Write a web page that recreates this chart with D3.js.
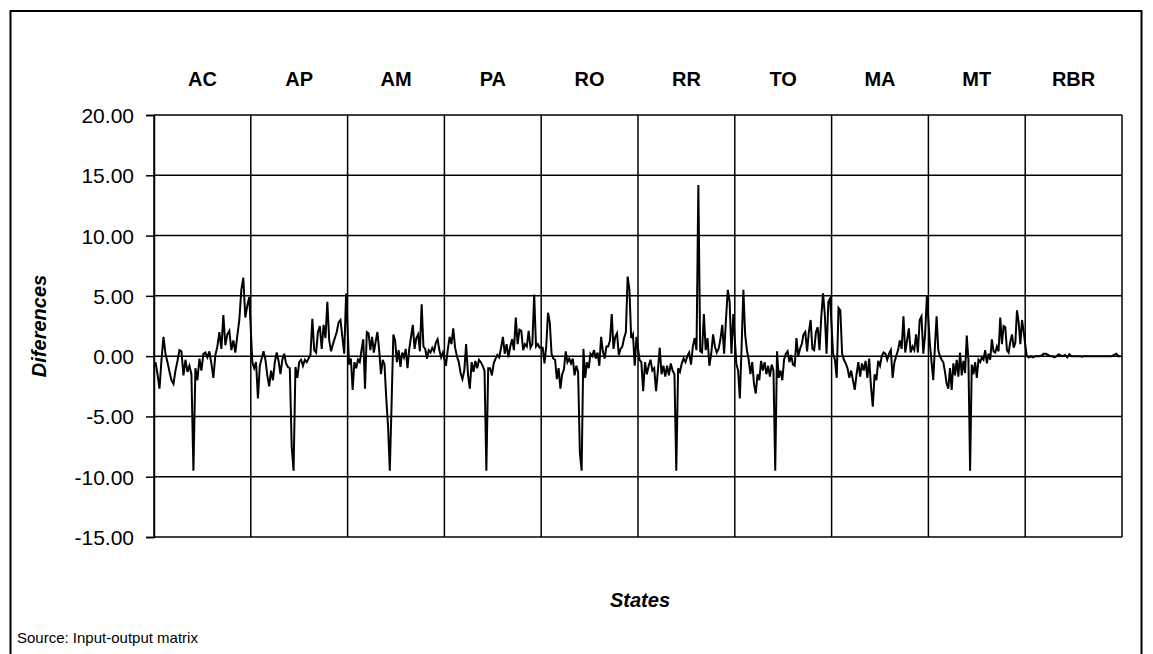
<!DOCTYPE html>
<html><head><meta charset="utf-8">
<script src="https://cdn.jsdelivr.net/npm/d3@7"></script>
<style>body{margin:0;background:#fff} svg{display:block}</style>
</head><body><svg id="c" width="1153" height="654"></svg>
<script>
const states = ["AC","AP","AM","PA","RO","RR","TO","MA","MT","RBR"];
const yTicks = [20,15,10,5,0,-5,-10,-15];

const AC = [-0.5,-1.5,-2.7,-0.3,1.6,0.2,-0.5,-1.3,-2.0,-2.3,-1.2,-0.4,0.5,0.4,-1.6,-0.3,-1.3,-0.8,-1.5,-9.5,-1.0,-2.0,-0.2,-1.2,0.2,0.3,-0.1,0.4,-0.6,-1.8,0.1,0.8,2.0,0.6,3.4,0.9,1.8,2.1,0.5,1.3,0.3,1.7,3.0,5.5,6.5,3.2,4.2,4.9];
const AP = [-0.5,-1.0,-0.5,-3.5,-0.8,-0.2,0.4,-0.3,-1.6,-2.5,-1.2,-2.0,-0.5,0.3,-0.4,-1.5,-0.3,0.2,-0.6,-0.9,-1.0,-7.5,-9.5,-0.9,-1.8,-0.5,-0.3,-0.8,-0.3,-0.5,-0.2,0.1,3.1,0.5,0.3,2.0,2.5,0.6,2.6,1.5,4.5,1.3,0.4,1.0,1.5,2.0,2.8,3.0,1.6,0.2,5.2];
const AM = [-0.7,-0.2,-2.8,-0.5,-1.0,-0.3,-0.5,0.5,1.4,-2.7,2.0,1.9,0.5,1.6,0.3,1.2,2.0,0.5,-1.5,-0.3,-0.7,-3.5,-5.8,-9.5,-4.0,1.8,1.3,-0.5,0.5,-0.9,0.3,-0.1,0.6,-1.0,0.6,1.6,2.6,0.6,1.5,1.8,0.4,4.3,0.8,0.6,-0.2,0.5,0.3,0.7,0.4,1.1,1.4,0.5,-0.1,0.3];
const PA = [-0.8,0.5,1.6,1.0,2.3,0.7,0.0,-0.5,-1.4,-1.9,-1.2,1.0,-1.5,-2.7,-0.5,-1.3,-0.4,-1.0,-0.3,-0.5,-0.8,-1.2,-9.5,-1.0,-1.0,-1.6,-0.6,-0.2,0.1,-0.1,0.7,1.6,0.2,1.0,-0.1,0.8,1.4,0.5,3.2,1.0,2.2,2.1,0.5,1.0,0.8,2.1,0.7,1.0,5.1,0.8,1.0,0.7];
const RO = [0.7,-0.6,0.8,3.6,2.8,0.2,-0.2,-0.3,-1.9,-1.0,-2.7,-1.5,-1.1,0.4,-0.5,-0.2,-0.6,-0.2,-1.6,-0.8,-1.3,-8.0,-9.5,0.6,-1.8,-0.5,-1.0,0.2,0.0,0.5,-0.2,0.3,-0.8,1.6,0.4,-0.2,0.8,0.8,1.3,3.5,0.6,1.6,1.9,0.1,0.6,0.8,1.5,2.0,6.6,5.5,1.5,1.8,-0.8,1.6];
const RR = [-0.3,-0.5,-2.9,-0.5,-1.5,-0.8,-0.3,-1.2,-1.0,-2.9,-1.2,0.7,-1.5,-0.8,-1.7,-0.8,-1.6,-0.6,-1.2,-1.5,-9.5,-1.0,-1.3,-0.6,-0.2,-0.5,0.0,0.3,-0.7,0.8,1.5,0.5,14.2,0.4,0.3,3.5,0.5,1.5,-0.8,0.2,1.8,0.8,0.3,0.6,1.4,2.6,0.2,3.0,5.5,4.5,0.2,3.5];
const TO = [-0.6,-1.2,-3.5,0.8,5.5,1.8,0.5,-0.3,-1.5,-0.5,-2.3,-3.1,-1.5,-2.0,-0.4,-1.2,-0.5,-1.5,-0.8,-1.7,-0.7,-1.2,-9.5,0.4,-1.8,-1.2,-2.0,-0.3,0.2,0.4,-0.5,0.1,-0.7,-0.8,1.5,0.0,0.6,1.0,1.8,2.0,0.4,2.0,3.0,0.6,0.5,2.0,2.4,0.5,3.2,5.2,3.5,0.2,4.5,4.8];
const MA = [0.2,-0.3,-1.8,4.0,3.8,0.2,-0.3,-0.6,-1.0,-1.8,-1.2,-2.0,-2.8,-1.5,-0.5,-1.7,-0.6,-1.2,-0.4,-1.8,-0.2,-2.5,-4.2,-1.5,-2.0,-0.4,-0.8,0.0,0.3,0.2,-0.3,0.2,0.5,-1.8,-0.5,0.0,0.5,1.3,0.6,3.3,0.3,1.3,2.3,0.3,0.8,0.5,1.8,0.3,3.0,3.3,0.2,1.8,5.0];
const MT = [1.0,-0.5,-2.0,0.8,3.3,0.5,0.0,-0.3,-0.5,-1.3,-2.3,-2.7,-1.0,-2.8,-0.6,-1.6,-0.3,-1.7,0.3,-1.6,-0.4,-1.4,1.7,-0.3,-9.5,-0.7,-1.5,-0.5,-1.8,-0.3,-0.5,-0.1,-0.3,0.5,-0.6,0.2,-0.3,1.4,0.4,0.3,0.8,0.4,3.2,1.0,2.5,2.4,0.5,0.3,1.2,1.8,0.7,1.1,3.8,2.8,1.0,3.0,2.0];
const RBR = [0.0,-0.1,0.0,-0.1,0.0,0.0,0.0,0.05,0.2,0.2,0.1,0.0,0.0,-0.1,0.0,0.15,0.05,0.0,0.1,-0.1,0.15,0.0,0.0,0.0,0.0,0.0,-0.05,0.0,0.0,0.0,0.0,0.0,0.0,0.0,0.0,0.0,0.0,0.0,0.0,0.0,0.0,0.1,0.2,0.0,0.0];

const seriesByState = [AC,AP,AM,PA,RO,RR,TO,MA,MT,RBR];

const svg = d3.select("#c");
const FONT = "'Liberation Sans', Arial, sans-serif";
const L = 154, R = 1122, T = 115, B = 537;

svg.append("rect").attr("x",10.5).attr("y",11).attr("width",1131).attr("height",700)
  .attr("fill","none").attr("stroke","#000").attr("stroke-width",2);

const x = d3.scaleBand().domain(states).range([L,R]).padding(0);
const y = d3.scaleLinear().domain([-15,20]).range([B,T]);

// horizontal gridlines
svg.append("g").selectAll("line").data(yTicks).join("line")
  .attr("x1",L).attr("x2",R).attr("y1",d=>y(d)).attr("y2",d=>y(d))
  .attr("stroke","#000").attr("stroke-width",1.5);
// vertical panel lines
const vx = states.map(s=>x(s)).concat([R]);
svg.append("g").selectAll("line").data(vx).join("line")
  .attr("x1",d=>d).attr("x2",d=>d).attr("y1",T).attr("y2",B)
  .attr("stroke","#000").attr("stroke-width",1.5);

// y axis
const fmt = d3.format(".2f");
const yAxis = d3.axisLeft(y).tickValues(yTicks).tickFormat(d=>fmt(d).replace("\u2212","-")).tickSize(8).tickPadding(12);
const ga = svg.append("g").attr("transform",`translate(${L},0)`).call(yAxis);
ga.select(".domain").attr("stroke","#000").attr("stroke-width",1.5);
ga.selectAll(".tick line").attr("stroke","#000").attr("stroke-width",1.5);
ga.selectAll(".tick text").attr("font-family",FONT).attr("font-size",21).attr("fill","#000").attr("dy","0.36em");

// state labels
svg.append("g").selectAll("text").data(states).join("text")
  .attr("x",d=>x(d)+x.bandwidth()/2).attr("y",86)
  .attr("text-anchor","middle").attr("font-family",FONT).attr("font-size",20).attr("font-weight","bold")
  .text(d=>d);

// data line
const pts = [];
states.forEach((s,k)=>{
  const vals = seriesByState[k];
  const inner = d3.scaleLinear().domain([0, vals.length-1]).range([x(s)+1.5, x(s)+x.bandwidth()-1.5]);
  vals.forEach((v,i)=>pts.push([inner(i), y(v)]));
});
svg.append("path").attr("d", d3.line()(pts)).attr("fill","none")
  .attr("stroke","#000").attr("stroke-width",2).attr("stroke-linejoin","miter");

// axis titles
svg.append("text").attr("transform","translate(46,326) rotate(-90)")
  .attr("text-anchor","middle").attr("font-family",FONT).attr("font-size",20)
  .attr("font-weight","bold").attr("font-style","italic").text("Diferences");
svg.append("text").attr("x",640).attr("y",607)
  .attr("text-anchor","middle").attr("font-family",FONT).attr("font-size",20)
  .attr("font-weight","bold").attr("font-style","italic").text("States");
svg.append("text").attr("x",17).attr("y",643)
  .attr("font-family",FONT).attr("font-size",15).text("Source: Input-output matrix");
</script></body></html>
